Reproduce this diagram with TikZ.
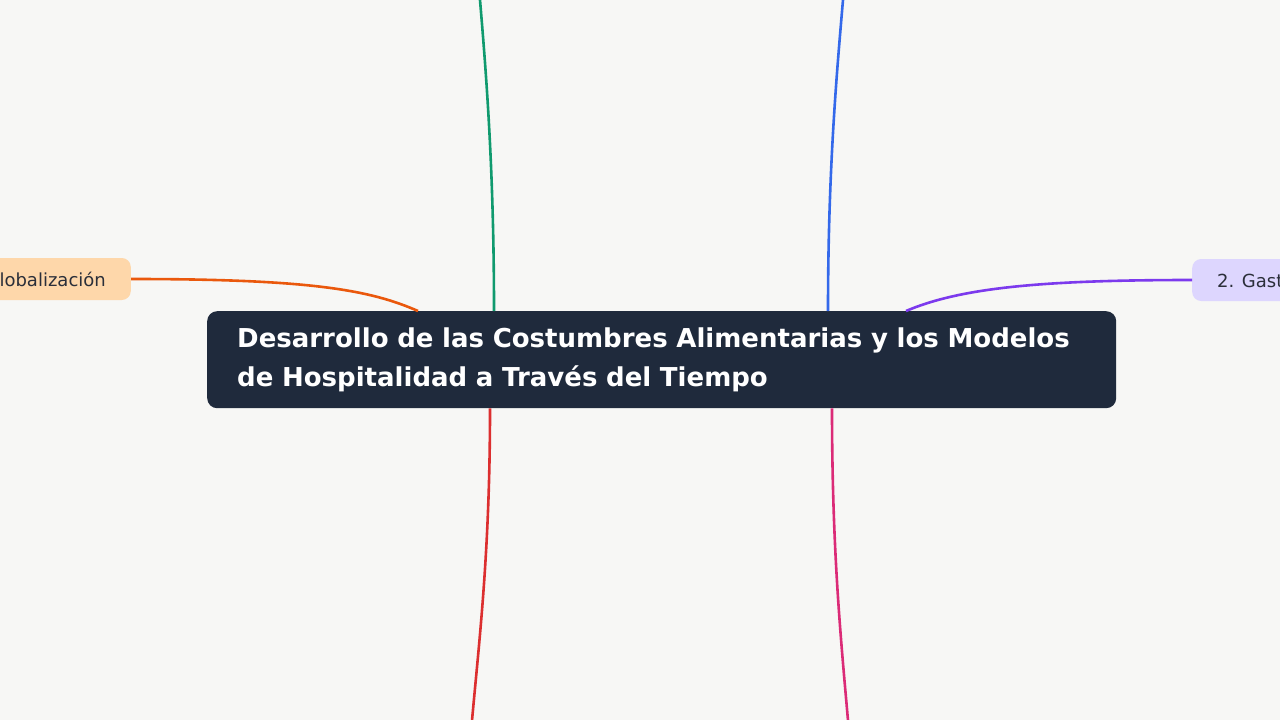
\documentclass[tikz,border=0pt]{standalone}
\usepackage{fontspec}
\setmainfont{DejaVu Sans}
\usetikzlibrary{positioning,calc}

\definecolor{paper}{HTML}{F7F7F5}
\definecolor{titlebg}{HTML}{1F2A3C}
\definecolor{leaftext}{HTML}{2B2F3A}
\definecolor{peach}{HTML}{FED7AA}
\definecolor{lavender}{HTML}{DDD6FE}
\definecolor{cgreen}{HTML}{109A6E}
\definecolor{cblue}{HTML}{3469EA}
\definecolor{cred}{HTML}{DC2F2F}
\definecolor{cpink}{HTML}{DB2B77}
\definecolor{corange}{HTML}{EA580C}
\definecolor{cpurple}{HTML}{7C3AED}

\begin{document}
\begin{tikzpicture}[x=1pt,y=-1pt,
  branch/.style={line width=2.6pt},
  leaf/.style={rounded corners=9pt,text=leaftext,inner xsep=25pt,
    minimum height=42pt,font=\fontsize{18}{22}\selectfont}]

\useasboundingbox[fill=paper] (0,0) rectangle (1280,720);

% central topic
\node[anchor=north west,fill=titlebg,text=white,rounded corners=10pt,
  text width=849pt,inner xsep=30pt,minimum height=97pt,align=left,
  font=\bfseries\fontsize{26}{39}\selectfont] (title) at (207,311)
  {\raisebox{-2pt}{Desarrollo de las Costumbres Alimentarias y los Modelos}\\
   \raisebox{-2pt}{de Hospitalidad a Través del Tiempo}};

% side topics
\node[leaf,fill=peach,anchor=east] (glob) at (131,279) {Globalización};
\node[leaf,fill=lavender,anchor=west] (gast) at (1192,280) {2. Gastronomía};

% ends of the branches that leave the page
\coordinate (upL) at (479,-12);
\coordinate (upR) at (844,-12);
\coordinate (dnL) at (471,732);
\coordinate (dnR) at (849,732);

\draw[branch,cgreen] ($(title.north west)+(287,0)$)
  .. controls +(0,-150) and (485,60) .. (upL);
\draw[branch,cblue] ($(title.north west)+(621,0)$)
  .. controls +(0,-150) and (838,60) .. (upR);
\draw[branch,cred] ($(title.south west)+(283,0)$)
  .. controls +(0,150) and (478,650) .. (dnL);
\draw[branch,cpink] ($(title.south west)+(625,0)$)
  .. controls +(0,150) and (842,650) .. (dnR);

\draw[branch,corange] (glob.east)
  .. controls +(180,0) and (370,290) .. ($(title.north west)+(211,0)$);
\draw[branch,cpurple] ($(title.north west)+(699,0)$)
  .. controls (960,288) and (1040,280) .. (gast.west);

\end{tikzpicture}
\end{document}
